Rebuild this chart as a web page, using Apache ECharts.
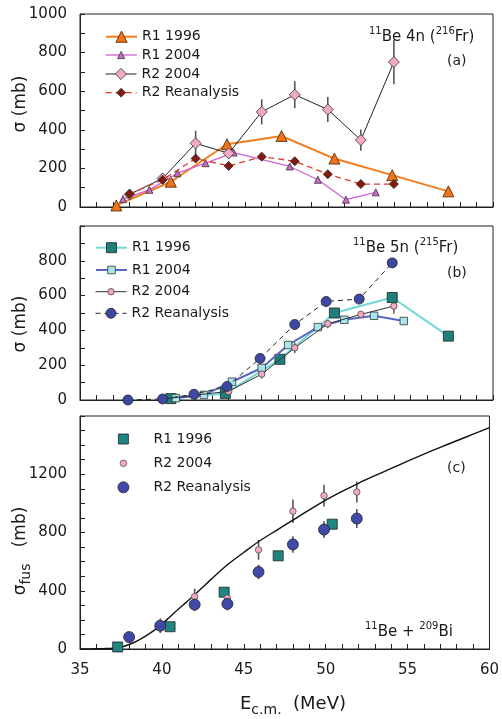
<!DOCTYPE html>
<html><head><meta charset="utf-8">
<script src="https://cdn.jsdelivr.net/npm/echarts@6/dist/echarts.min.js"></script>
<style>html,body{margin:0;padding:0;background:#fff}#c{width:502px;height:719px}</style>
</head><body><div id="c"></div>
<script>
// ---------- DATA ----------
const xTickLabels = [35, 40, 45, 50, 55, 60];

// Panel (a): 11Be 4n (216Fr)
const a_R1_1996_x = [37.2, 40.5, 43.9, 47.2, 50.4, 53.9, 57.3];
const a_R1_1996_y = [8, 131, 325, 368, 251, 165, 81];
const a_R1_2004_x = [37.6, 39.2, 40.9, 42.6, 44.3, 47.7, 49.4, 51.1, 52.9];
const a_R1_2004_y = [41, 89, 175, 227, 282, 210, 141, 38, 76];
const a_R2_2004_x = [38, 40, 42, 44, 46, 48, 50, 52, 54];
const a_R2_2004_y = [65, 148, 330, 278, 493, 582, 505, 347, 751];
const a_R2_2004_err = [25, 25, 65, 30, 65, 70, 65, 55, 115];
const a_R2_re_x = [38, 40, 42, 44, 46, 48, 50, 52, 54];
const a_R2_re_y = [67, 141, 251, 213, 261, 237, 170, 119, 119];

// Panel (b): 11Be 5n (215Fr)
const b_R1_1996_x = [40.5, 43.8, 47.1, 50.4, 53.9, 57.3];
const b_R1_1996_y = [8, 38, 234, 500, 589, 367];
const b_R1_1996_err = [0, 0, 30, 0, 0, 0];
const b_R1_2004_x = [40.8, 42.5, 44.2, 46.0, 47.6, 49.4, 51.0, 52.8, 54.6];
const b_R1_2004_y = [11, 29, 105, 184, 316, 419, 461, 484, 454];
const b_R2_2004_x = [40, 42, 44, 46, 48, 50, 52, 54];
const b_R2_2004_y = [5, 28, 50, 149, 300, 438, 492, 540];
const b_R2_2004_err = [0, 0, 20, 25, 30, 25, 15, 45];
const b_R2_re_x = [37.9, 40, 41.9, 43.9, 45.9, 48, 49.9, 51.9, 53.9];
const b_R2_re_y = [0, 6, 33, 78, 239, 434, 566, 580, 788];

// Panel (c): fusion, 11Be + 209Bi
const c_R1_1996_x = [37.3, 40.5, 43.8, 47.1, 50.4];
const c_R1_1996_y = [14, 153, 390, 640, 857];
const c_R1_1996_err = [0, 0, 0, 30, 25];
const c_R2_2004_x = [42, 44, 45.9, 48, 49.9, 51.9];
const c_R2_2004_y = [360, 349, 681, 946, 1053, 1078];
const c_R2_2004_err = [55, 40, 68, 80, 75, 72];
const c_R2_re_x = [38, 39.9, 42, 44, 45.9, 48, 49.9, 51.9];
const c_R2_re_y = [82, 160, 305, 310, 529, 718, 820, 896];
const c_R2_re_err = [35, 50, 45, 45, 50, 57, 57, 65];
const c_theory_x = [35, 36, 36.5, 37, 37.5, 38, 38.5, 39, 39.5, 40, 40.5, 41, 41.5, 42, 42.5, 43, 44, 45, 46, 47, 48, 49, 50, 51, 52, 53, 54, 55, 56, 57, 58, 59, 60];
const c_theory_y = [0, 2, 3, 5, 12, 31, 56, 88, 126, 170, 222, 273, 322, 372, 425, 478, 578, 663, 745, 815, 885, 955, 1022, 1082, 1138, 1190, 1240, 1290, 1338, 1385, 1430, 1475, 1520];

// ---------- CHART ----------
const FONT = '"DejaVu Sans"';
const TXT = '#1a1a1a';
const grids = [
  { left: 80, top: 14, width: 413, height: 193 },
  { left: 80, top: 226, width: 413, height: 174 },
  { left: 80, top: 416, width: 413, height: 233 }
];
const yMax = [1000, 1000, 1600];
const yInt = [200, 200, 400];
const yMinor = [2, 2, 4];
const yShowMax = [true, false, false];

const pairs = (xs, ys) => xs.map((x, i) => [x, ys[i]]);

function lineS(name, g, xs, ys, o) {
  return {
    name, type: 'line', xAxisIndex: g, yAxisIndex: g, data: pairs(xs, ys),
    symbol: o.symbol, symbolSize: o.size, showSymbol: true, showAllSymbol: true,
    lineStyle: { color: o.line, width: o.lw, type: o.dash || 'solid' },
    itemStyle: { color: o.fill, borderColor: o.border || '#222', borderWidth: 0.8 },
    z: o.z || 3, silent: true, clip: false
  };
}
function scatS(name, g, xs, ys, o) {
  return {
    name, type: 'scatter', xAxisIndex: g, yAxisIndex: g, data: pairs(xs, ys),
    symbol: o.symbol, symbolSize: o.size,
    itemStyle: { color: o.fill, borderColor: o.border || '#222', borderWidth: 0.8, opacity: 1 },
    z: o.z || 3, silent: true
  };
}
function errS(g, xs, ys, es, color, w) {
  const data = [];
  xs.forEach((x, i) => { if (es[i] > 0) data.push([x, ys[i] - es[i], ys[i] + es[i]]); });
  return {
    type: 'custom', xAxisIndex: g, yAxisIndex: g, data, z: 2, silent: true,
    encode: { x: 0, y: [1, 2] },
    renderItem: (params, api) => {
      const p1 = api.coord([api.value(0), api.value(1)]);
      const p2 = api.coord([api.value(0), api.value(2)]);
      return { type: 'line', shape: { x1: p1[0], y1: p1[1], x2: p2[0], y2: p2[1] },
        style: { stroke: color, lineWidth: w || 1.5 } };
    }
  };
}

const series = [
  // (a)
  errS(0, a_R2_2004_x, a_R2_2004_y, a_R2_2004_err, '#555', 1.6),
  lineS('a|R1 1996', 0, a_R1_1996_x, a_R1_1996_y, { symbol: 'triangle', size: 11, line: '#f07d1e', lw: 2, fill: '#ef7418', border: '#4a2000', z: 3 }),
  lineS('a|R1 2004', 0, a_R1_2004_x, a_R1_2004_y, { symbol: 'triangle', size: 7, line: '#cf62cf', lw: 1.3, fill: '#c868c8', border: '#333', z: 4 }),
  lineS('a|R2 2004', 0, a_R2_2004_x, a_R2_2004_y, { symbol: 'diamond', size: 11, line: '#222', lw: 1, fill: '#f4a8c8', border: '#333', z: 5 }),
  lineS('a|R2 Reanalysis', 0, a_R2_re_x, a_R2_re_y, { symbol: 'diamond', size: 9, line: '#e2392c', lw: 1.3, dash: [6, 4], fill: '#821a10', border: '#222', z: 6 }),
  // (b)
  errS(1, b_R2_2004_x, b_R2_2004_y, b_R2_2004_err, '#444', 1.3),
  errS(1, b_R1_1996_x, b_R1_1996_y, b_R1_1996_err, '#444', 1.3),
  lineS('b|R1 1996', 1, b_R1_1996_x, b_R1_1996_y, { symbol: 'rect', size: 10, line: '#72d8d6', lw: 2, fill: '#1f7f7a', border: '#222', z: 3 }),
  lineS('b|R1 2004', 1, b_R1_2004_x, b_R1_2004_y, { symbol: 'rect', size: 7.5, line: '#5668c2', lw: 2, fill: '#a8e6ee', border: '#333', z: 4 }),
  lineS('b|R2 2004', 1, b_R2_2004_x, b_R2_2004_y, { symbol: 'circle', size: 6.5, line: '#333', lw: 1, fill: '#f5a8c0', border: '#444', z: 5 }),
  lineS('b|R2 Reanalysis', 1, b_R2_re_x, b_R2_re_y, { symbol: 'circle', size: 10, line: '#222', lw: 1, dash: [5, 4], fill: '#3c48a2', border: '#222', z: 6 }),
  // (c)
  { type: 'line', xAxisIndex: 2, yAxisIndex: 2, data: pairs(c_theory_x, c_theory_y), symbol: 'none', smooth: 0.3,
    lineStyle: { color: '#111', width: 1.4 }, z: 2, silent: true },
  errS(2, c_R2_2004_x, c_R2_2004_y, c_R2_2004_err, '#555', 1.6),
  errS(2, c_R2_re_x, c_R2_re_y, c_R2_re_err, '#555', 1.6),
  errS(2, c_R1_1996_x, c_R1_1996_y, c_R1_1996_err, '#555', 1.6),
  scatS('c|R1 1996', 2, c_R1_1996_x, c_R1_1996_y, { symbol: 'rect', size: 10, fill: '#1f8580', border: '#222', z: 4 }),
  scatS('c|R2 2004', 2, c_R2_2004_x, c_R2_2004_y, { symbol: 'circle', size: 6.5, fill: '#f5a8c0', border: '#555', z: 5 }),
  scatS('c|R2 Reanalysis', 2, c_R2_re_x, c_R2_re_y, { symbol: 'circle', size: 11, fill: '#3f4aa8', border: '#222', z: 6 })
];

// legend items: [series name, left, centerY, itemWidth, itemHeight, lineWidth, textLeftPad]
const legendItems = [
  ['a|R1 1996', 105, 36.7, 31, 14, 2, 0],
  ['a|R1 2004', 105, 55, 31, 9, 1.3, 0],
  ['a|R2 2004', 105, 74, 31, 14, 1, 0],
  ['a|R2 Reanalysis', 105, 92.7, 31, 11, 1.3, 0],
  ['b|R1 1996', 95, 247.7, 31, 12.5, 2, 0],
  ['b|R1 2004', 95, 270, 31, 9.5, 2, 0],
  ['b|R2 2004', 95, 291.7, 31, 8, 1, 0],
  ['b|R2 Reanalysis', 95, 313.3, 31, 12.5, 1, 0],
  ['c|R1 1996', 118, 439, 10, 10, 0, 20],
  ['c|R2 2004', 119.75, 463.3, 6.5, 6.5, 0, 21.75],
  ['c|R2 Reanalysis', 117.5, 487.3, 11, 11, 0, 19.5]
];
const legends = legendItems.map(([n, l, cy, w, h, lw, pad]) => ({
  data: [n], left: l, top: cy - Math.max(h, 14) / 2, itemWidth: w, itemHeight: h, padding: 0,
  selectedMode: false, formatter: nm => nm.split('|')[1],
  textStyle: { fontFamily: FONT, fontSize: 14, color: TXT, padding: [0, 0, 0, pad] },
  itemStyle: { borderWidth: 0.8 },
  lineStyle: { width: lw }
}));

// text helpers
const mctx = document.createElement('canvas').getContext('2d');
function tw(t, s) { mctx.font = s + 'px ' + FONT; return mctx.measureText(t).width; }
function txt(t, s, x, y) {
  return { type: 'text', x, y, silent: true, style: { text: t, font: s + 'px ' + FONT, fill: TXT,
    textAlign: 'left', textVerticalAlign: 'middle', align: 'left', verticalAlign: 'middle' } };
}
function run(pieces, x0, y0, rot) {
  let x = 0; const children = [];
  pieces.forEach(([t, s, dy]) => { children.push(txt(t, s, x, dy)); x += tw(t, s); });
  return { type: 'group', x: x0, y: y0, rotation: rot || 0, children };
}
function runW(pieces) { return pieces.reduce((a, [t, s]) => a + tw(t, s), 0); }
function vrun(pieces, cx, cy) { const w = runW(pieces); return run(pieces, cx, cy + w / 2, Math.PI / 2); }

const yTitleA = [['σ (mb)', 17, 0]];
const yTitleC = [['σ', 17, 0], ['fus', 14, 5], ['   (mb)', 17, 0]];
const graphics = [
  run([['11', 10, -6], ['Be 4n (', 15, 0], ['216', 10, -6], ['Fr)', 15, 0]], 369, 37),
  run([['(a)', 14, 0]], 447, 61),
  run([['11', 10, -6], ['Be 5n (', 15, 0], ['215', 10, -6], ['Fr)', 15, 0]], 353, 248),
  run([['(b)', 14, 0]], 447, 273),
  run([['(c)', 14, 0]], 447, 468),
  run([['11', 10, -6], ['Be + ', 15, 0], ['209', 10, -6], ['Bi', 15, 0]], 365, 632),
  run([['E', 18, 0], ['c.m.', 14, 6], ['  (MeV)', 18, 0]], 240, 704),
  vrun(yTitleA, 21, 104),
  vrun(yTitleA, 21, 324),
  vrun(yTitleC, 21, 551)
];

const xAxes = grids.map((g, i) => ({
  type: 'value', gridIndex: i, min: 35, max: 60, interval: 5,
  axisLine: { show: true, lineStyle: { color: '#222', width: 1 } },
  axisTick: { show: true, inside: true, length: 5, lineStyle: { color: '#222' } },
  minorTick: { show: true, splitNumber: 5, length: 5, lineStyle: { color: '#222' } },
  axisLabel: { show: i === 2, margin: 14, fontFamily: FONT, fontSize: 15, color: TXT },
  splitLine: { show: false }, minorSplitLine: { show: false }
}));
const yAxes = grids.map((g, i) => ({
  type: 'value', gridIndex: i, min: 0, max: yMax[i], interval: yInt[i],
  axisLine: { show: true, lineStyle: { color: '#222', width: 1 } },
  axisTick: { show: true, inside: true, length: 5, lineStyle: { color: '#222' } },
  minorTick: { show: true, splitNumber: yMinor[i], length: 5, lineStyle: { color: '#222' } },
  axisLabel: { margin: 13, fontFamily: FONT, fontSize: 15, color: TXT,
    formatter: v => (v === yMax[i] && !yShowMax[i]) ? '' : String(v) },
  splitLine: { show: false }, minorSplitLine: { show: false }
}));

const chart = echarts.init(document.getElementById('c'), null, { renderer: 'canvas' });
chart.setOption({
  animation: false,
  backgroundColor: '#fff',
  grid: grids.map(g => Object.assign({ show: true, borderColor: '#222', borderWidth: 1, backgroundColor: 'transparent', containLabel: false }, g)),
  xAxis: xAxes,
  yAxis: yAxes,
  legend: legends,
  graphic: graphics,
  series
});
</script></body></html>
